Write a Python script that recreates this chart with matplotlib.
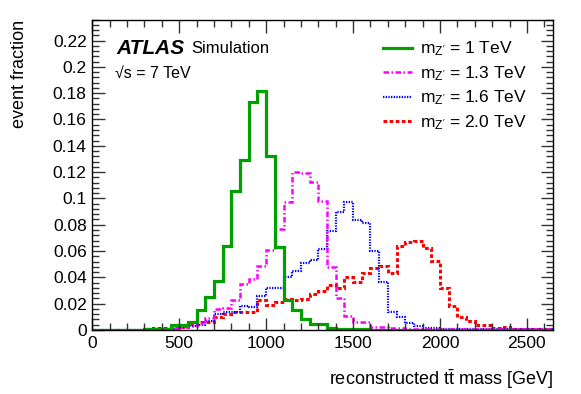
import numpy as np
import matplotlib
matplotlib.use("Agg")
import matplotlib.pyplot as plt
from matplotlib.lines import Line2D

plt.rcParams['font.family'] = ['Liberation Sans', 'DejaVu Sans']
plt.rcParams['mathtext.fontset'] = 'custom'
plt.rcParams['mathtext.rm'] = 'Liberation Sans'
plt.rcParams['mathtext.it'] = 'Liberation Sans:italic'
plt.rcParams['mathtext.bf'] = 'Liberation Sans:bold'

# ---------------- data (bin width 50 GeV, 0 .. 2650 GeV) ----------------
bin_edges = np.arange(0, 2651, 50)

# m_Z' = 1 TeV
z1000 = [0.0003, 0.0003, 0.0003, 0.0003, 0.0003, 0.0003, 0.0005, 0.0005, 0.001, 0.004,
         0.004, 0.0063, 0.0152, 0.025, 0.0375, 0.064, 0.106, 0.129, 0.1736, 0.182,
         0.132, 0.063, 0.0228, 0.015, 0.0087, 0.0045, 0.0045, 0.0015, 0.001, 0.001,
         0.001, 0.001, 0.0003, 0.0003, 0.0003, 0.0003, 0.0003, 0.0003, 0.0003, 0.0003,
         0.0003, 0.0003, 0.0003, 0.0003, 0.0003, 0.0003, 0.0003, 0.0003, 0.0003, 0.0003,
         0.0003, 0.0003, 0.0003]
# m_Z' = 1.3 TeV
z1300 = [0.0003, 0.0003, 0.0003, 0.0003, 0.0003, 0.0003, 0.0005, 0.001, 0.001, 0.0015,
         0.002, 0.003, 0.005, 0.009, 0.0157, 0.017, 0.0228, 0.035, 0.039, 0.049,
         0.061, 0.077, 0.0976, 0.1204, 0.1196, 0.1125, 0.098, 0.048, 0.024, 0.011,
         0.0063, 0.006, 0.0025, 0.0025, 0.0015, 0.0015, 0.0008, 0.0008, 0.0008, 0.0008,
         0.0004, 0.0004, 0.0004, 0.0004, 0.0004, 0.0004, 0.0004, 0.0004, 0.0004, 0.0004,
         0.0004, 0.0004, 0.0004]
# m_Z' = 1.6 TeV
z1600 = [0.0003, 0.0003, 0.0003, 0.0003, 0.0003, 0.0003, 0.0006, 0.0006, 0.001, 0.001,
         0.002, 0.003, 0.004, 0.0065, 0.012, 0.0135, 0.014, 0.018, 0.0175, 0.0255,
         0.032, 0.032, 0.0405, 0.0445, 0.051, 0.053, 0.0614, 0.0755, 0.090, 0.0975,
         0.0837, 0.081, 0.0603, 0.0368, 0.0134, 0.0097, 0.005, 0.0027, 0.0017, 0.0017,
         0.001, 0.001, 0.001, 0.001, 0.0005, 0.0005, 0.0005, 0.0005, 0.0005, 0.0005,
         0.0005, 0.0005, 0.0005]
# m_Z' = 2.0 TeV
z2000 = [0.0003, 0.0003, 0.0003, 0.0003, 0.0003, 0.0003, 0.0005, 0.0012, 0.0012, 0.0015,
         0.002, 0.0046, 0.0063, 0.0063, 0.010, 0.0125, 0.014, 0.014, 0.0135, 0.0228,
         0.019, 0.0215, 0.0235, 0.0228, 0.0233, 0.027, 0.030, 0.0345, 0.032, 0.040,
         0.0368, 0.043, 0.047, 0.049, 0.043, 0.0636, 0.067, 0.068, 0.0623, 0.0524,
         0.032, 0.0183, 0.010, 0.0065, 0.004, 0.004, 0.0015, 0.002, 0.001, 0.001,
         0.001, 0.001, 0.001]

labels = [r"m$_{\mathrm{Z'}}$ = 1 TeV", r"m$_{\mathrm{Z'}}$ = 1.3 TeV",
          r"m$_{\mathrm{Z'}}$ = 1.6 TeV", r"m$_{\mathrm{Z'}}$ = 2.0 TeV"]

x_ticks = [0, 500, 1000, 1500, 2000, 2500]
y_ticks = [0, 0.02, 0.04, 0.06, 0.08, 0.1, 0.12, 0.14, 0.16, 0.18, 0.2, 0.22]
y_ticklabels = ["0", "0.02", "0.04", "0.06", "0.08", "0.1", "0.12", "0.14",
                "0.16", "0.18", "0.2", "0.22"]

# ---------------- figure ----------------
W, H = 581, 394
fig = plt.figure(figsize=(W / 100, H / 100), dpi=100)
ax = fig.add_axes([92.3 / W, 1 - 330 / H, (553 - 92.3) / W, (330 - 19.5) / H])

styles = [
    dict(color="#00a000", lw=2.3, linestyle="-"),
    dict(color="#ff00ff", lw=1.8, linestyle=(0, (2.2, 1.0, 0.6, 1.0))),
    dict(color="#0000ff", lw=1.6, linestyle=(0, (0.6, 0.6))),
    dict(color="#ff0000", lw=2.2, linestyle=(0, (1.2, 0.8))),
]
series = [z1000, z1300, z1600, z2000]
order = [3, 2, 1, 0]
for i in order:
    ax.stairs(series[i], bin_edges, baseline=None, **styles[i])

ax.set_xlim(0, 2650)
ax.set_ylim(0, 0.236)
ax.set_xticks(x_ticks)
ax.set_xticks(np.arange(0, 2651, 100), minor=True)
ax.set_yticks(y_ticks)
ax.set_yticklabels(y_ticklabels)
ax.set_yticks(np.arange(0, 0.2361, 0.004), minor=True)
ax.tick_params(which="both", direction="in", top=True, right=True, labelsize=12.5,
               width=1, color="#333333")
ax.tick_params(which="major", length=9, pad=4)
ax.tick_params(which="minor", length=5)
for sp in ax.spines.values():
    sp.set_linewidth(1.0)

ax.set_xlabel(r"reconstructed t$\bar{\mathrm{t}}$ mass [GeV]", fontsize=13,
              loc="right", labelpad=12)
ax.set_ylabel("event fraction", fontsize=13, loc="top", labelpad=18)

# ATLAS label
t_atlas = ax.text(0.052, 0.905, "ATLAS", transform=ax.transAxes, fontsize=15,
                  fontweight="bold", fontstyle="italic", va="center", ha="left")
fig.canvas.draw()
bb = t_atlas.get_window_extent(renderer=fig.canvas.get_renderer())
x_sim = ax.transAxes.inverted().transform((bb.x1 + 7, 0))[0]
ax.text(x_sim, 0.905, "Simulation", transform=ax.transAxes, fontsize=12,
        va="center", ha="left")
ax.text(0.050, 0.825, "\u221as = 7 TeV", transform=ax.transAxes,
        fontsize=11.5, va="center", ha="left")

handles = [Line2D([], [], **styles[i]) for i in range(4)]
leg = ax.legend(handles, labels, loc="upper left", bbox_to_anchor=(0.616, 0.957),
                frameon=False, fontsize=12.5, handlelength=1.65, handletextpad=0.46,
                labelspacing=0.33, borderaxespad=0)

fig.savefig("out.png", dpi=100)
